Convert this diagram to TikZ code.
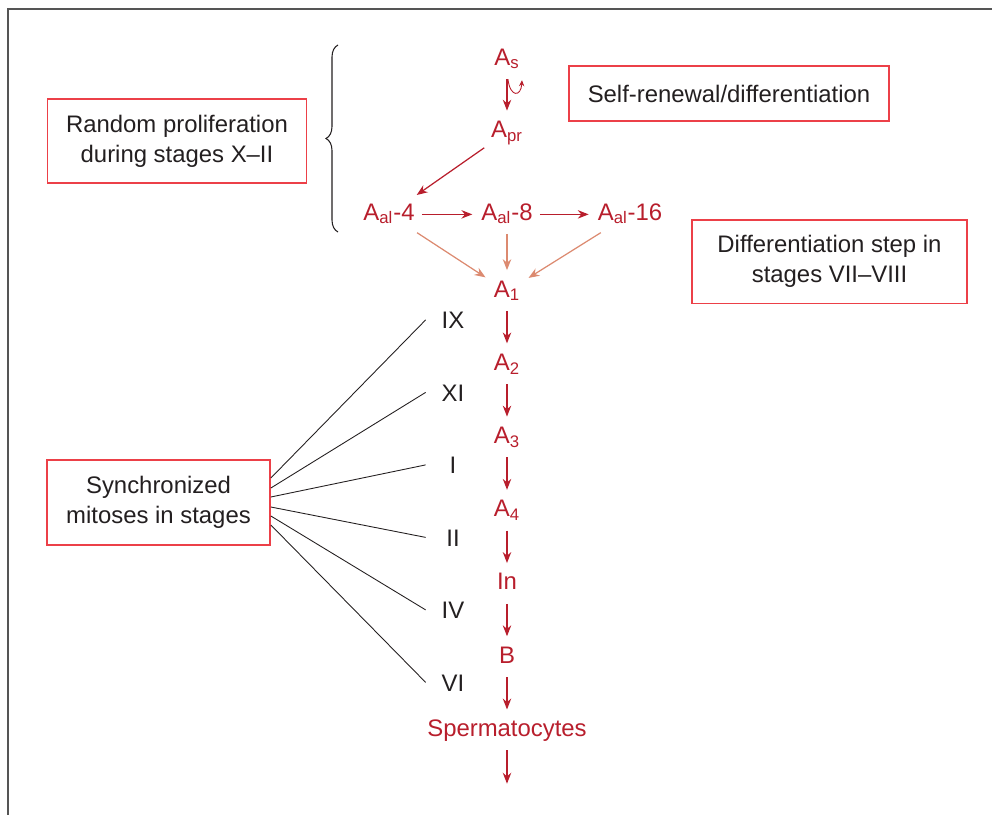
\documentclass[tikz,border=0pt]{standalone}
\usepackage{fontspec}
\setmainfont{Liberation Sans}
\usetikzlibrary{positioning, arrows.meta, decorations.pathreplacing}
\definecolor{cellred}{RGB}{184,30,44}
\definecolor{boxred}{RGB}{236,64,72}
\definecolor{paleorange}{RGB}{220,138,112}
\definecolor{ink}{RGB}{35,31,32}
\definecolor{framegray}{RGB}{85,85,85}

\begin{document}
\begin{tikzpicture}[x=0.02cm, y=-0.02cm, node distance=0.79cm,
  font=\fontsize{13.6}{17}\selectfont,
  >={Stealth[length=6.2pt,width=4.8pt,inset=2pt]},
  cell/.style={text=cellred, inner xsep=2.5pt, inner ysep=2.8pt, text height=9.8pt, text depth=3.4pt},
  stage/.style={text=ink, inner sep=0pt, minimum width=1.08cm, text height=9.8pt, text depth=0pt},
  note/.style={draw=boxred, line width=1pt, text=ink, align=center, inner sep=0pt},
  flow/.style={->, color=cellred, line width=0.7pt, shorten <=1.5pt, shorten >=2.5pt}]
\useasboundingbox (0,0) rectangle (992,815);
\draw[framegray, line width=0.9pt] (8,815) -- (8,9) -- (992,9);

% boxes
\node[note, minimum width=5.18cm, minimum height=1.68cm] (random) at (177,141) {Random proliferation\\during stages X–II};
\node[note, minimum width=6.4cm, minimum height=1.1cm] (selfren) at (729,93.5) {Self-renewal/differentiation};
\node[note, minimum width=5.51cm, minimum height=1.67cm] (diffstep) at (829.5,261.7) {Differentiation step in\\stages VII–VIII};
\node[note, minimum width=4.46cm, minimum height=1.7cm] (sync) at (158.5,502.5) {Synchronized\\mitoses in stages};

% cells
\node[cell, anchor=base] (as) at (507,65) {A\textsubscript{s}};
\node[cell, anchor=base] (apr) at (507,137.5) {A\textsubscript{pr}};
\node[cell, anchor=base] (al4) at (389,220) {A\textsubscript{al}-4};
\node[cell, anchor=base] (al8) at (507,220) {A\textsubscript{al}-8};
\node[cell, anchor=base] (al16) at (630,220) {A\textsubscript{al}-16};
\node[cell, anchor=base] (a1) at (507,297) {A\textsubscript{1}};
\node[cell] (a2) [below=of a1] {A\textsubscript{2}};
\node[cell] (a3) [below=of a2] {A\textsubscript{3}};
\node[cell] (a4) [below=of a3] {A\textsubscript{4}};
\node[cell] (in) [below=of a4] {In};
\node[cell] (b) [below=of in] {B};
\node[cell] (spc) [below=of b] {Spermatocytes};
\coordinate[below=0.81cm of spc] (exit);

% stages
\node[stage, anchor=base] (s9) at (453,328.5) {IX};
\node[stage, anchor=base] (s11) at (453,401) {XI};
\node[stage, anchor=base] (s1) at (453,473.5) {I};
\node[stage, anchor=base] (s2) at (453,546) {II};
\node[stage, anchor=base] (s4) at (453,618.5) {IV};
\node[stage, anchor=base] (s6) at (453,691) {VI};

\draw[ink, line width=0.6pt, decorate, decoration={brace, amplitude=0.24cm}] (338,232) -- (338,45);

\path[flow]
    (as) edge (apr)
    (apr) edge (al4)
    (al4) edge (al8)
    (al8) edge (al16)
    (a1) edge (a2)
    (a2) edge (a3)
    (a3) edge (a4)
    (a4) edge (in)
    (in) edge (b)
    (b) edge (spc)
    (spc) edge (exit);
\path[flow, color=paleorange]
    (al4) edge (a1)
    (al8) edge (a1)
    (al16) edge (a1);

% self-renewal curl
\draw[->, cellred, line width=0.5pt, >={Stealth[length=3.4pt,width=3pt]}]
    ([shift={(1,3)}]as.south) .. controls ([shift={(3,21)}]as.south) and ([shift={(14,21)}]as.south) .. ([shift={(15,4)}]as.south);

\draw[ink, line width=0.5pt]
    ([yshift=0.49cm]sync.east) -- (s9.west)
    ([yshift=0.29cm]sync.east) -- (s11.west)
    ([yshift=0.11cm]sync.east) -- (s1.west)
    ([yshift=-0.09cm]sync.east) -- (s2.west)
    ([yshift=-0.27cm]sync.east) -- (s4.west)
    ([yshift=-0.45cm]sync.east) -- (s6.west);
\end{tikzpicture}
\end{document}
